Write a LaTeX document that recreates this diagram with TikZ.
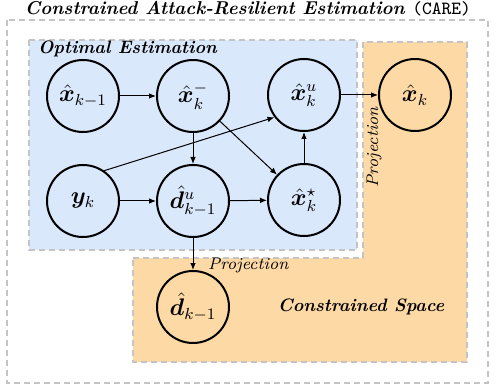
\documentclass[tikz,border=0pt]{standalone}
\usepackage{amsmath,amssymb,bm}
\usepackage{tikz}
\usetikzlibrary{arrows.meta}
\definecolor{optblue}{HTML}{DAE8FC}
\definecolor{conorange}{HTML}{FDD9A6}
\definecolor{boxgray}{HTML}{C4C4C4}
\tikzstyle{vertex}=[circle,draw,line width=1pt,minimum size=36pt,inner sep=0pt,font=\large]
\tikzstyle{arr} = [draw,line width=0.5pt,-{Latex[length=3.5pt,width=2.8pt]}]
\tikzstyle{region} = [draw=boxgray,line width=0.8pt,dash pattern=on 3pt off 2pt]
\tikzstyle{heading} = [font=\fontsize{9}{11}\selectfont\bfseries\itshape]
\tikzstyle{projlabel} = [font=\fontsize{8.4}{10}\selectfont\itshape]

\begin{document}
\begin{tikzpicture}[x=0.5pt,y=-0.5pt]
    \useasboundingbox (0,0) rectangle (491,389);

    % regions
    \path[region] (7,20) rectangle (488,383);
    \path[region,fill=optblue] (29,40) rectangle (357,250);
    \path[region,fill=conorange] (133,258) -- (363,258) -- (363,42)
        -- (467,42) -- (467,362) -- (133,362) -- cycle;

    \node[heading,font=\fontsize{9.3}{11}\selectfont\bfseries\itshape] (title) at (248,9)
        {Constrained Attack-Resilient Estimation {\mdseries\upshape\ttfamily(CARE)}};
    \node[heading,anchor=west] (opt) at (31,49) {Optimal Estimation};
    \node[heading] (space) at (361,307) {Constrained Space};

    \foreach \pos/\name/\val in {{(83,96)/xp/\hat{\bm x}_{k-1}}, {(193,96)/xm/\hat{\bm x}_k^-},
    {(304,95)/xu/\hat{\bm x}_k^u},{(415,95)/xk/\hat{\bm x}_k},{(83,201)/yk/\bm y_k},
    {(193,201)/du/\hat{\bm d}^u_{k-1}},{(304,200)/xs/\hat{\bm x}^\star_k},{(193,307)/dk/\hat{\bm d}_{k-1}}}
        \node[vertex] (\name) at \pos {$\val$};

    \foreach \source/ \dest in {xp/xm,xm/du,xm/xs,yk/du,du/xs,xs/xu}
        \path[arr] (\source) -- (\dest);

    \path[arr] (yk.55) -- (xu.217);
    \path[arr] (xu) -- (xk);
    \path[arr] (du) -- node[projlabel,at end,anchor=west,xshift=4pt,yshift=2.5pt] {Projection} (dk);
    \node[projlabel,rotate=90,anchor=east] (projx) at ([xshift=-2pt,yshift=-2.5pt]xk.west) {Projection};
\end{tikzpicture}
\end{document}
